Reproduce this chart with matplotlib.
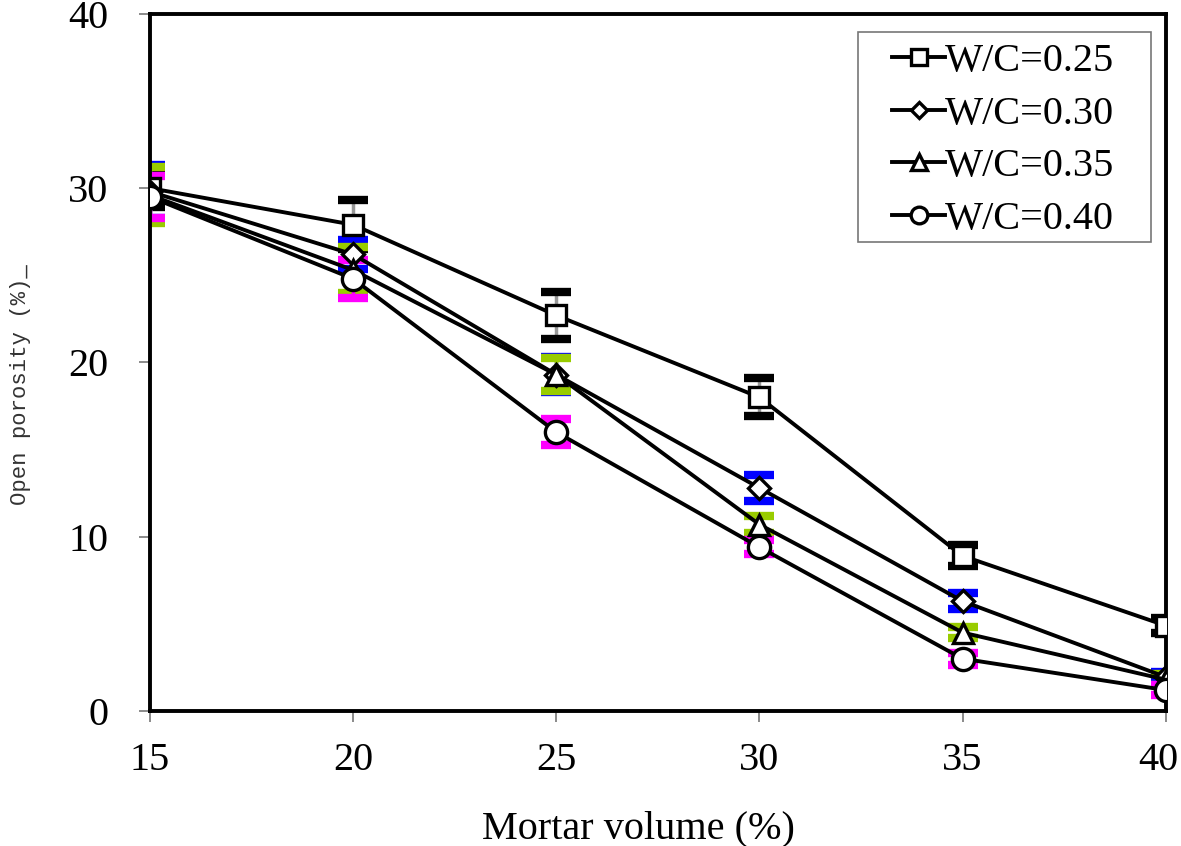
import numpy as np
import matplotlib
matplotlib.use('Agg')
import matplotlib.pyplot as plt
from matplotlib.patches import Rectangle
from matplotlib.transforms import ScaledTranslation

mortar = [15, 20, 25, 30, 35, 40]

wc025 = [30.0, 27.9, 22.7, 18.0, 8.9, 4.9]
err025 = [1.1, 1.4, 1.35, 1.1, 0.6, 0.45]
wc030 = [29.8, 26.2, 19.3, 12.8, 6.3, 1.95]
err030 = [1.5, 0.85, 1.0, 0.75, 0.45, 0.3]
wc035 = [29.6, 25.3, 19.3, 10.7, 4.5, 1.8]
err035 = [1.6, 1.3, 0.95, 0.5, 0.3, 0.3]
wc040 = [29.5, 24.8, 16.0, 9.4, 3.0, 1.2]
err040 = [1.2, 1.1, 0.75, 0.4, 0.35, 0.3]

labels = ['W/C=0.25', 'W/C=0.30', 'W/C=0.35', 'W/C=0.40']

plt.rcParams['font.family'] = ['Liberation Serif', 'DejaVu Serif']

fig = plt.figure(figsize=(11.81, 8.46), dpi=100)
ax = fig.add_axes([0.127, 0.1596, 0.86, 0.824])

series = [
    (wc025, err025, 's', 15, 'black', '#999999'),
    (wc030, err030, 'D', 11, '#0000ff', '#0000ff'),
    (wc035, err035, '^', 15, '#99cc00', '#99cc00'),
    (wc040, err040, 'o', 16, '#ff00ff', '#ff00ff'),
]

# error bars first, thick coloured caps
for i, (y, e, m, ms, capc, linec) in enumerate(series):
    _, caps, bars = ax.errorbar(mortar, y, yerr=e, fmt='none', ecolor=linec,
                                elinewidth=2.5, capsize=11, capthick=6,
                                zorder=2 + i * 0.1)
    for c in caps:
        c.set_markeredgecolor(capc)
        c.set_markerfacecolor(capc)

for i, (y, e, m, ms, capc, linec) in enumerate(series):
    ax.plot(mortar, y, color='black', linewidth=2.8, marker=m,
            markersize=ms, markerfacecolor='white',
            markeredgecolor='black', markeredgewidth=2.4,
            label=labels[i], zorder=4)

ax.set_xlim(15, 40)
ax.set_ylim(0, 40)
ax.set_xticks([15, 20, 25, 30, 35, 40])
ax.set_yticks([0, 10, 20, 30, 40])

for s in ax.spines.values():
    s.set_linewidth(2.8)
    s.set_color('black')

ax.tick_params(axis='both', direction='out', length=8, width=1.2,
               color='#777777', labelsize=29)
ax.tick_params(axis='y', pad=22)
ax.tick_params(axis='x', pad=14)

# last x label sits a bit left so it stays inside the figure
last = ax.xaxis.get_major_ticks()[-1].label1
last.set_transform(last.get_transform() + ScaledTranslation(-0.07, 0, fig.dpi_scale_trans))

ax.set_xlabel('Mortar volume (%)', fontsize=29)
ax.xaxis.set_label_coords(0.481, -0.143)
ax.xaxis.label.set_va('top')
ax.set_ylabel('Open porosity (%)_', fontsize=16, family='Liberation Mono',
              color='#333333')
ax.yaxis.set_label_coords(-0.117, 0.468)

# legend box drawn by hand, wider padding on the left like the original
ax.add_patch(Rectangle((0.697, 0.673), 0.289, 0.301, transform=ax.transAxes,
                       facecolor='white', edgecolor='#777777', linewidth=1.2,
                       zorder=5))
leg = ax.legend(loc='upper left', bbox_to_anchor=(0.731, 0.958),
                fontsize=29, frameon=False,
                handlelength=1.3, handletextpad=0.0, labelspacing=0.38,
                markerscale=0.75, borderpad=0, borderaxespad=0)
leg.set_zorder(6)

fig.savefig('out.png', dpi=100)
